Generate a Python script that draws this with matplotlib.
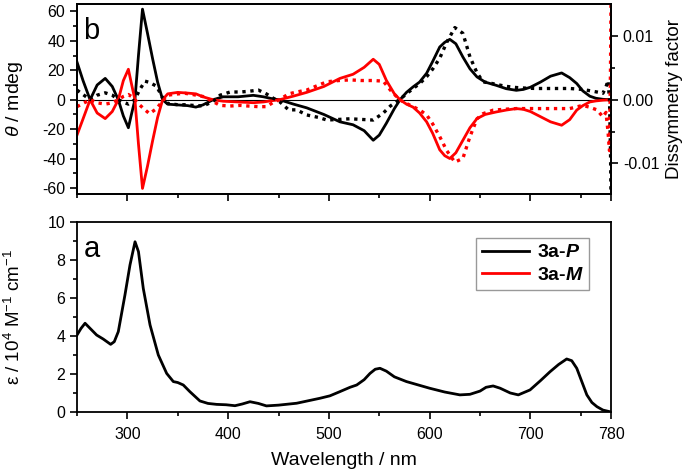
import matplotlib

matplotlib.use("Agg")

import matplotlib.pyplot as plt
from matplotlib.ticker import MultipleLocator, FixedLocator

plt.rcParams["font.family"] = ["Liberation Sans", "DejaVu Sans"]
plt.rcParams["mathtext.fontset"] = "custom"
plt.rcParams["mathtext.rm"] = "Liberation Sans"
plt.rcParams["mathtext.it"] = "Liberation Sans:italic"
plt.rcParams["mathtext.bf"] = "Liberation Sans:bold"
plt.rcParams["mathtext.bfit"] = "Liberation Sans:italic:bold"

# CD spectra (mdeg)
wl_cd = [250, 256, 263, 270, 278, 285, 291, 296, 301, 304, 307.5, 311, 315, 320, 325, 330,
         335, 340, 350, 360, 368, 375, 385, 395, 410, 425, 435, 445, 451, 465, 478, 495,
         511, 524, 535, 544, 550, 557, 565, 570.6, 577, 583.5, 590, 597, 603, 610, 615,
         620, 626, 633, 640, 647, 655, 666, 676, 686, 693, 700, 710, 720, 731, 739, 746,
         752, 759, 765, 772, 780]
cd_p = [25.6, 13, 0, 10, 14.5, 9, 0, -11, -19, -10, 0, 30, 61.5, 45, 28, 12,
        0, -3, -3.5, -4, -5, -3.5, 0, 2, 2, 3, 2, 0.5, 0, -3, -5.5, -10,
        -15, -17, -21, -27.5, -24, -16, -6, 0, 5, 8.7, 12, 18, 26, 35.8, 39,
        41, 38, 29, 21, 15.5, 12, 9.8, 7.5, 6.4, 7, 8.5, 12, 16, 18.2, 15, 11,
        6, 2.4, 1, 0.3, 0]
cd_m = [-24, -13, 0, -9, -12.8, -8, 0, 13, 20.7, 11, 0, -30, -60.2, -45, -28, -12,
        0, 4, 5, 4.5, 4, 2, 0, -1, -1.5, -2, -1.5, -0.5, 0, 2.5, 5, 9,
        14.5, 17.3, 22, 27.5, 24, 13.2, 4, 0, -3, -5, -9, -15, -22.8, -34, -38,
        -39.9, -36, -27.5, -19, -12.8, -10, -8.3, -7, -6, -6.5, -8, -11.5, -15, -17.3, -13.5, -7,
        -4, -1.5, -0.8, -0.3, 0]

# dissymmetry factors (x 1e-3)
wl_g = [250, 256, 263, 270, 278, 285, 291, 296, 301, 304, 307.5, 312, 317.5, 322, 329, 335,
        340, 350, 357, 365, 375, 385, 392, 402, 412, 420, 430, 438, 445, 451, 460, 468,
        478, 490, 498, 510, 521, 532, 544, 554, 561, 570, 577, 583.5, 590, 597, 603, 610,
        617, 625, 633, 640, 647, 653, 663, 675, 686, 696, 706, 720, 739, 752, 759, 766,
        772, 775, 777, 778.5, 779.5, 780]
g_p = [1.5, 0.8, 0, 0.7, 1.07, 0.7, 0, -0.4, -0.7, -0.4, 0, 1.5, 2.9, 2.7, 2.1, 0.3,
       -0.6, -0.8, -0.8, -0.9, -1.0, -0.3, 0.7, 1.2, 1.2, 1.3, 1.5, 0.9, 0.2, -0.3, -1.6, -1.6,
       -2.4, -2.8, -3.2, -3.1, -3.0, -3.1, -3.2, -2.1, -1.0, 0, 0.9, 1.75, 2.5, 3.6, 4.8, 6.5,
       9.0, 11.3, 10.4, 6.7, 4.2, 2.8, 2.5, 2.1, 1.9, 1.8, 1.75, 1.75, 1.75, 1.6, 1.4, 1.2,
       1.0, 2.0, 3.0, 0, -8, -16]
g_m = [-1.1, -0.6, 0, -0.5, -0.7, -0.5, 0, 0.5, 0.8, 0.5, 0, -0.8, -1.6, -2.2, -1.4, -0.2,
       0.7, 0.9, 1.0, 0.8, 0.5, -0.3, -0.9, -1.0, -0.9, -1.0, -1.1, -1.1, -0.4, 0, 0.9, 1.2,
       1.5, 2.3, 2.8, 3.0, 3.1, 3.0, 3.0, 2.9, 1.5, 0, -0.6, -1.1, -1.6, -2.4, -3.8, -5.8,
       -8.0, -9.8, -9.2, -5.8, -3.0, -2.2, -1.65, -1.5, -1.4, -1.4, -1.4, -1.4, -1.4, -0.9, -1.2, -1.6,
       -2.7, -2.0, -5, -8, 5, 16]

# absorption (1e4 M-1 cm-1)
wl_abs = [250, 254, 258, 263, 269.5, 276, 283.4, 287, 291, 297.6, 302.6, 307.6, 311, 315.8,
          322.5, 330.7, 339, 345.6, 350, 355.5, 362, 372, 380, 388.6, 398, 406.8, 414, 421.7,
          430, 438, 450, 468, 491, 501, 510, 521, 527.6, 535, 540.8, 546, 550.7, 557, 565,
          577, 600, 615, 630, 640, 650, 656, 663, 670, 680, 688, 699.6, 710, 719.5, 728, 736,
          741, 746, 751, 756, 761, 766, 772, 780]
eps = [4.05, 4.4, 4.67, 4.4, 4.05, 3.84, 3.56, 3.7, 4.23, 6.16, 7.74, 8.96, 8.44, 6.5,
       4.58, 3.0, 2.03, 1.6, 1.55, 1.42, 1.07, 0.58, 0.45, 0.4, 0.38, 0.33, 0.42, 0.54,
       0.45, 0.32, 0.36, 0.46, 0.72, 0.85, 1.05, 1.3, 1.42, 1.7, 2.03, 2.25, 2.3, 2.15, 1.85,
       1.6, 1.25, 1.05, 0.9, 0.93, 1.1, 1.3, 1.37, 1.25, 1.0, 0.9, 1.16, 1.65, 2.12, 2.5, 2.79,
       2.7, 2.3, 1.6, 0.9, 0.5, 0.28, 0.1, 0]

labels = ["3a-$\\mathbfit{P}$", "3a-$\\mathbfit{M}$"]
major_x = [300, 400, 500, 600, 700, 780]
minor_x = [250, 350, 450, 550, 650, 750]
RED = "#ff0000"
TICK_FS = 11.5
LABEL_FS = 14

fig = plt.figure(figsize=(6.85, 4.76), dpi=100)
ax_b = fig.add_axes([0.1124, 0.5924, 0.7796, 0.3992])
ax_a = fig.add_axes([0.1124, 0.1345, 0.7796, 0.3991])


def style_x(ax, show_labels):
    ax.set_xlim(250, 780)
    ax.xaxis.set_major_locator(FixedLocator(major_x))
    ax.xaxis.set_minor_locator(FixedLocator(minor_x))
    ax.tick_params(axis="x", which="major", direction="out", length=5, width=1.2,
                   labelsize=TICK_FS, labelbottom=show_labels, pad=6)
    ax.tick_params(axis="x", which="minor", direction="out", length=3, width=1.2)
    ax.tick_params(axis="y", which="major", direction="out", length=5, width=1.2, labelsize=TICK_FS)
    ax.tick_params(axis="y", which="minor", direction="out", length=3, width=1.2)
    for sp in ax.spines.values():
        sp.set_linewidth(1.3)


# panel b: CD + g-factor
ax_b.axhline(0, color="black", linewidth=0.8)
ax_b.plot(wl_cd, cd_p, color="black", linewidth=2.0)
ax_b.plot(wl_cd, cd_m, color=RED, linewidth=2.0)
ax_b.set_ylim(-64, 65)
ax_b.yaxis.set_major_locator(MultipleLocator(20))
ax_b.yaxis.set_minor_locator(MultipleLocator(10))
ax_b.yaxis.set_major_formatter(lambda v, p: f"{v:.0f}".replace("\u2212", "-"))
style_x(ax_b, False)
ax_b.set_ylabel("$\\theta$ / mdeg", fontsize=LABEL_FS)
ax_b.yaxis.set_label_coords(-0.097, 0.5)
ax_b.text(0.012, 0.93, "b", transform=ax_b.transAxes, fontsize=21, va="top", ha="left")

ax_g = ax_b.twinx()
ax_g.plot(wl_g, [v * 1e-3 for v in g_p], color="black", linewidth=2.4, linestyle=(0, (1.0, 1.4)))
ax_g.plot(wl_g, [v * 1e-3 for v in g_m], color=RED, linewidth=2.4, linestyle=(0, (1.0, 1.4)))
ax_g.set_ylim(-0.0148, 0.015)
ax_g.yaxis.set_major_locator(FixedLocator([-0.01, 0.0, 0.01]))
ax_g.yaxis.set_minor_locator(FixedLocator([-0.005, 0.005]))
ax_g.yaxis.set_major_formatter(lambda v, p: f"{v:.2f}".replace("\u2212", "-"))
ax_g.tick_params(axis="y", which="major", direction="out", length=5, width=1.2, labelsize=TICK_FS)
ax_g.tick_params(axis="y", which="minor", direction="out", length=3, width=1.2)
ax_g.set_ylabel("Dissymmetry factor", fontsize=LABEL_FS - 0.5, labelpad=5)
for sp in ax_g.spines.values():
    sp.set_linewidth(1.3)

# panel a: absorption
ax_a.plot(wl_abs, eps, color="black", linewidth=2.0, label=labels[0])
ax_a.plot([], [], color=RED, linewidth=2.0, label=labels[1])
ax_a.set_ylim(0, 10)
ax_a.yaxis.set_major_locator(MultipleLocator(2))
ax_a.yaxis.set_minor_locator(MultipleLocator(1))
style_x(ax_a, True)
ax_a.set_ylabel("\u03b5 / 10$^{4}$ M$^{-1}$ cm$^{-1}$", fontsize=LABEL_FS - 0.5)
ax_a.yaxis.set_label_coords(-0.1, 0.5)
ax_a.set_xlabel("Wavelength / nm", fontsize=LABEL_FS, labelpad=7)
ax_a.text(0.012, 0.93, "a", transform=ax_a.transAxes, fontsize=21, va="top", ha="left")
leg = ax_a.legend(loc="upper right", bbox_to_anchor=(0.959, 0.916), frameon=True, fancybox=False,
                  edgecolor="#808080", prop={"weight": "bold", "size": 14},
                  handlelength=2.4, borderpad=0.3, labelspacing=0.25, handletextpad=0.4,
                  borderaxespad=0)
leg.get_frame().set_linewidth(1.0)

fig.savefig("out.png", dpi=100)
